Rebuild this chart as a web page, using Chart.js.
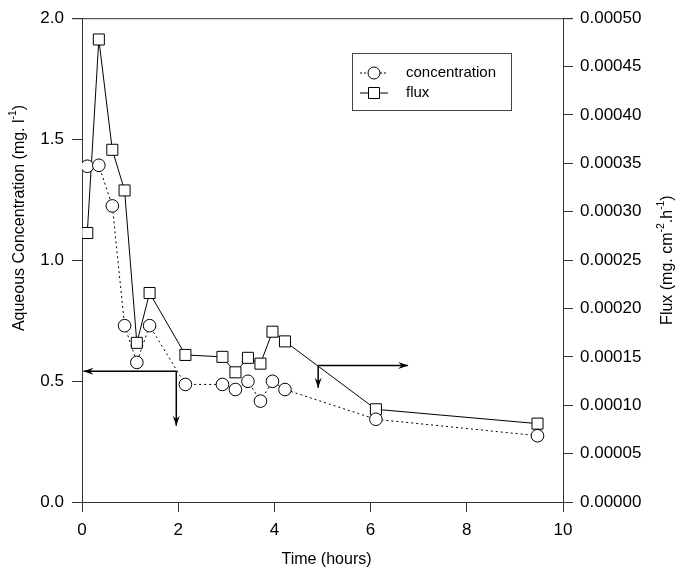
<!DOCTYPE html>
<html>
<head>
<meta charset="utf-8">
<script src="https://cdn.jsdelivr.net/npm/chart.js@4"></script>
<style>
  html, body { margin: 0; padding: 0; background: #fff; }
</style>
</head>
<body>
<canvas id="chart" width="681" height="573"></canvas>
<script>
// values
const time = [0.11, 0.35, 0.63, 0.885, 1.14, 1.405, 2.15, 2.92, 3.19, 3.45, 3.71, 3.96, 4.22, 6.11, 9.47];
const concentration = [1.388, 1.392, 1.224, 0.729, 0.577, 0.729, 0.486, 0.486, 0.465, 0.499, 0.417, 0.499, 0.465, 0.342, 0.274];
const flux = [0.000278, 0.000478, 0.000364, 0.000322, 0.0001645, 0.000216, 0.000152, 0.00015, 0.000134, 0.000149, 0.000143, 0.000176, 0.000166, 0.0000958, 0.000081];
const xTicks = [0, 2, 4, 6, 8, 10];
const concTicks = [0, 0.5, 1.0, 1.5, 2.0];
const fluxTicks = [0, 0.00005, 0.0001, 0.00015, 0.0002, 0.00025, 0.0003, 0.00035, 0.0004, 0.00045, 0.0005];
// arrows: [start], [end of horizontal], [end of vertical]
const concArrow = [[1.96, 0.54], [0.03, 0.54], [1.96, 0.315]];
const fluxArrow = [[4.91, 0.000141], [6.78, 0.000141], [4.91, 0.000118]];

const FONT = 'Liberation Sans, Arial, sans-serif';
const AXIS = '#333';

const pts = (xs, ys) => xs.map((x, i) => ({ x: x, y: ys[i] }));

function arrowHead(ctx, x0, y0, x1, y1) {
  const a = Math.atan2(y1 - y0, x1 - x0);
  const len = 10, w = 3.5;
  ctx.save();
  ctx.translate(x1, y1);
  ctx.rotate(a);
  ctx.beginPath();
  ctx.moveTo(0, 0);
  ctx.lineTo(-len, -w);
  ctx.lineTo(-len * 0.65, 0);
  ctx.lineTo(-len, w);
  ctx.closePath();
  ctx.fill();
  ctx.restore();
}

function drawArrow(chart, yId, arr) {
  const ctx = chart.ctx;
  const xs = chart.scales.x, ys = chart.scales[yId];
  const p = arr.map(a => [xs.getPixelForValue(a[0]), ys.getPixelForValue(a[1])]);
  ctx.save();
  ctx.strokeStyle = '#000';
  ctx.fillStyle = '#000';
  ctx.lineWidth = 1.5;
  ctx.beginPath();
  ctx.moveTo(p[0][0], p[0][1]);
  ctx.lineTo(p[1][0], p[1][1]);
  ctx.moveTo(p[0][0], p[0][1]);
  ctx.lineTo(p[2][0], p[2][1]);
  ctx.stroke();
  arrowHead(ctx, p[0][0], p[0][1], p[1][0], p[1][1]);
  arrowHead(ctx, p[0][0], p[0][1], p[2][0], p[2][1]);
  ctx.restore();
}

// draws text with superscript pieces: parts = [[text, isSup], ...]
function richText(ctx, parts, size) {
  let w = 0;
  parts.forEach(([t, sup]) => {
    ctx.font = (sup ? size * 0.65 : size) + 'px ' + FONT;
    w += ctx.measureText(t).width;
  });
  let x = -w / 2;
  parts.forEach(([t, sup]) => {
    ctx.font = (sup ? size * 0.65 : size) + 'px ' + FONT;
    ctx.fillText(t, x, sup ? -size * 0.4 : 0);
    x += ctx.measureText(t).width;
  });
}

const extras = {
  id: 'extras',
  afterDatasetsDraw(chart) {
    const ctx = chart.ctx, ca = chart.chartArea;
    // top frame line
    ctx.save();
    ctx.strokeStyle = AXIS;
    ctx.lineWidth = 1;
    ctx.beginPath();
    ctx.moveTo(ca.left - 10, ca.top + 0.5);
    ctx.lineTo(ca.right + 10, ca.top + 0.5);
    ctx.stroke();
    ctx.restore();

    drawArrow(chart, 'y', concArrow);
    drawArrow(chart, 'y2', fluxArrow);

    // legend
    ctx.save();
    const lx = 352, ly = 53, lw = 159, lh = 57;
    ctx.strokeStyle = '#444';
    ctx.lineWidth = 1;
    ctx.strokeRect(lx + 0.5, ly + 0.5, lw, lh);
    const rows = [
      { label: 'concentration', dash: [2, 2], style: 'circle', y: ly + 20 },
      { label: 'flux', dash: [], style: 'rect', y: ly + 40 }
    ];
    rows.forEach(r => {
      ctx.strokeStyle = '#000';
      ctx.setLineDash(r.dash);
      ctx.beginPath();
      ctx.moveTo(lx + 8, r.y);
      ctx.lineTo(lx + 36, r.y);
      ctx.stroke();
      ctx.setLineDash([]);
      ctx.fillStyle = '#fff';
      ctx.beginPath();
      if (r.style === 'circle') ctx.arc(lx + 22, r.y, 6, 0, Math.PI * 2);
      else ctx.rect(lx + 16.5, r.y - 5.5, 11, 11);
      ctx.fill();
      ctx.stroke();
      ctx.fillStyle = '#000';
      ctx.font = '15px ' + FONT;
      ctx.textBaseline = 'middle';
      ctx.fillText(r.label, lx + 54, r.y);
    });
    ctx.restore();

    // axis titles
    ctx.save();
    ctx.fillStyle = '#000';
    ctx.textBaseline = 'middle';
    ctx.translate((ca.left + ca.right) / 2 + 4, 560);
    richText(ctx, [['Time (hours)', false]], 16);
    ctx.restore();

    ctx.save();
    ctx.fillStyle = '#000';
    ctx.textBaseline = 'middle';
    ctx.translate(20, 218);
    ctx.rotate(-Math.PI / 2);
    richText(ctx, [['Aqueous Concentration (mg. l', false], ['-1', true], [')', false]], 16);
    ctx.restore();

    ctx.save();
    ctx.fillStyle = '#000';
    ctx.textBaseline = 'middle';
    ctx.translate(668, (ca.top + ca.bottom) / 2);
    ctx.rotate(-Math.PI / 2);
    richText(ctx, [['Flux (mg. cm', false], ['-2', true], ['.h', false], ['-1', true], [')', false]], 16);
    ctx.restore();
  }
};

const tickFont = { family: FONT, size: 17 };

new Chart(document.getElementById('chart'), {
  type: 'line',
  data: {
    datasets: [
      {
        label: 'concentration',
        data: pts(time, concentration),
        yAxisID: 'y',
        borderColor: '#000',
        borderWidth: 1,
        borderDash: [2, 3],
        pointStyle: 'circle',
        pointRadius: 6.3,
        pointBackgroundColor: '#fff',
        pointBorderColor: '#000',
        pointBorderWidth: 1,
        tension: 0
      },
      {
        label: 'flux',
        data: pts(time, flux),
        yAxisID: 'y2',
        borderColor: '#000',
        borderWidth: 1,
        pointStyle: 'rect',
        pointRadius: 7.8,
        pointBackgroundColor: '#fff',
        pointBorderColor: '#000',
        pointBorderWidth: 1,
        tension: 0
      }
    ]
  },
  options: {
    responsive: false,
    animation: false,
    layout: { padding: { top: 14, left: 0, right: 0, bottom: 0 } },
    plugins: { legend: { display: false }, tooltip: { enabled: false } },
    scales: {
      x: {
        type: 'linear',
        min: 0, max: 10,
        afterBuildTicks: s => { s.ticks = xTicks.map(v => ({ value: v })); },
        afterFit: s => { s.height = 71; },
        ticks: { color: '#000', font: tickFont, padding: 8 },
        grid: { drawOnChartArea: false, tickLength: 10, color: AXIS },
        border: { color: AXIS, width: 1 }
      },
      y: {
        position: 'left',
        min: 0, max: 2,
        afterBuildTicks: s => { s.ticks = concTicks.map(v => ({ value: v })); },
        afterFit: s => { s.width = 82; },
        ticks: { color: '#000', font: tickFont, padding: 8, callback: v => v.toFixed(1) },
        grid: { drawOnChartArea: false, tickLength: 10, color: AXIS },
        border: { color: AXIS, width: 1 }
      },
      y2: {
        position: 'right',
        min: 0, max: 0.0005,
        afterBuildTicks: s => { s.ticks = fluxTicks.map(v => ({ value: v })); },
        afterFit: s => { s.width = 118; },
        ticks: { color: '#000', font: tickFont, padding: 7, callback: v => v.toFixed(5) },
        grid: { drawOnChartArea: false, tickLength: 10, color: AXIS },
        border: { color: AXIS, width: 1 }
      }
    }
  },
  plugins: [extras]
});
</script>
</body>
</html>
